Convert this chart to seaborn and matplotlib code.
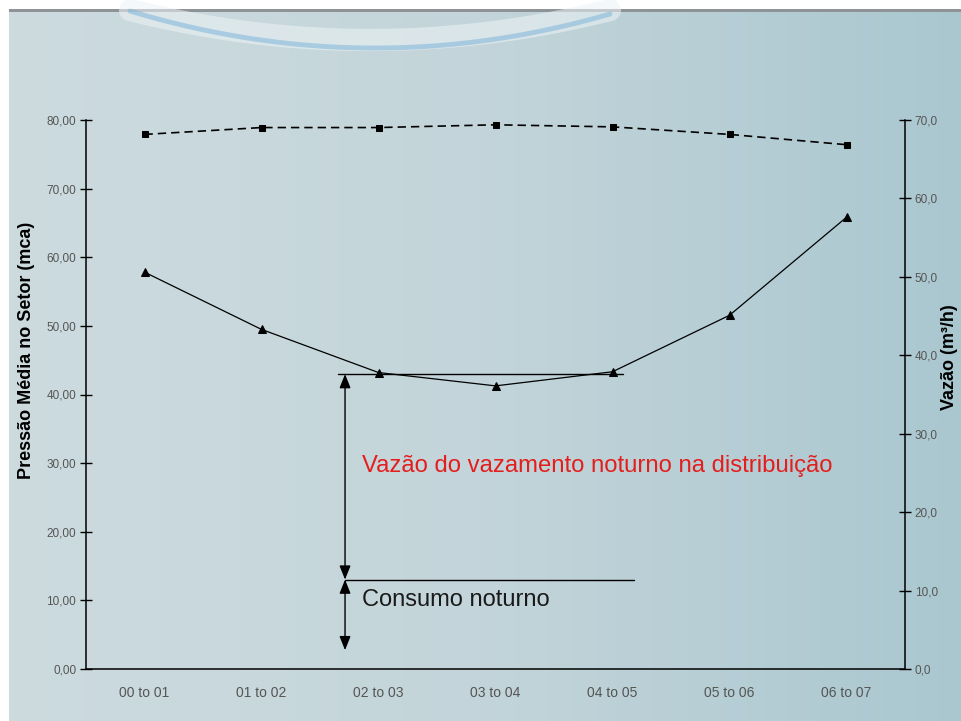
import numpy as np
import pandas as pd
import matplotlib
matplotlib.use("Agg")
import matplotlib.pyplot as plt
from matplotlib.colors import LinearSegmentedColormap
from matplotlib.ticker import FuncFormatter, FixedLocator
import seaborn as sns

# dados
horarios = ["00 to 01", "01 to 02", "02 to 03", "03 to 04", "04 to 05", "05 to 06", "06 to 07"]
pressao = [77.9, 78.9, 78.9, 79.3, 79.0, 77.9, 76.4]      # mca (eixo esquerdo)
vazao = [50.6, 43.3, 37.8, 36.1, 37.9, 45.1, 57.6]        # m3/h (eixo direito)

# niveis das anotacoes (m3/h)
vazao_minima_noturna = 37.6
consumo_noturno = 11.4
fim_seta = 2.4

df = pd.DataFrame({"pos": np.arange(len(horarios)), "horario": horarios,
                   "pressao": pressao, "vazao": vazao})

sns.set_theme(style="white")
plt.rcParams["font.family"] = ["Liberation Sans", "DejaVu Sans"]

fig = plt.figure(figsize=(9.61, 7.21), dpi=100)

# fundo em degrade (decorativo)
bg = fig.add_axes([0, 0, 1, 1], zorder=-10)
grad = np.tile(np.linspace(0, 1, 256), (32, 1))
cmap = LinearSegmentedColormap.from_list("fundo", ["#cddbdf", "#c3d5da", "#aac7cf"])
bg.imshow(grad, cmap=cmap, aspect="auto", extent=[0, 961, 721, 0])
bg.set_xlim(0, 961)
bg.set_ylim(721, 0)
# onda azul no topo
xs = np.linspace(130, 610, 80)
bg.plot(xs, 10 + 30 * (1 - ((xs - 370) / 240) ** 2), color="#eef4f6", lw=16, alpha=0.55,
        solid_capstyle="round")
bg.plot(xs, 14 + 34 * (1 - ((xs - 375) / 235) ** 2), color="#7fb5da", lw=3.5, alpha=0.55,
        solid_capstyle="round")
bg.fill_between([0, 961], 0, 9, color="white", lw=0)
bg.fill_between([0, 9], 0, 721, color="white", lw=0)
bg.fill_between([9, 961], 9, 11.5, color="#8e9398", lw=0)
bg.axis("off")

ax = fig.add_axes([86 / 961, 52 / 721, 819 / 961, 549 / 721])
ax.patch.set_alpha(0)
ax2 = ax.twinx()

sns.lineplot(data=df, x="pos", y="pressao", ax=ax, color="black", lw=1.2,
             linestyle=(0, (5, 3)), marker="s", markersize=5,
             markeredgecolor="black", sort=False)
sns.lineplot(data=df, x="pos", y="vazao", ax=ax2, color="black", lw=0.9,
             marker="^", markersize=5.5, markeredgecolor="black", sort=False)

ax.set_xlim(-0.5, len(horarios) - 0.5)
ax.set_ylim(0, 80)
ax2.set_ylim(0, 70)

# ticks do eixo x nas divisas, rotulos no centro
ax.xaxis.set_major_locator(FixedLocator(np.arange(-0.5, len(horarios), 1.0)))
ax.xaxis.set_minor_locator(FixedLocator(df["pos"]))
ax.set_xticklabels([], minor=False)
ax.set_xticklabels(horarios, minor=True)
ax.tick_params(axis="x", which="major", direction="inout", length=8, width=1, color="black")
ax.tick_params(axis="x", which="minor", length=0, pad=12, labelsize=10, labelcolor="#555555")

ax.set_yticks(np.arange(0, 81, 10))
ax.yaxis.set_major_formatter(FuncFormatter(lambda v, p: f"{v:.2f}".replace(".", ",")))
ax.tick_params(axis="y", direction="inout", length=8, width=1, color="black",
               labelsize=8.5, labelcolor="#555555", pad=3)
ax2.set_yticks(np.arange(0, 71, 10))
ax2.yaxis.set_major_formatter(FuncFormatter(lambda v, p: f"{v:.1f}".replace(".", ",")))
ax2.tick_params(axis="y", direction="inout", length=8, width=1, color="black",
                labelsize=8.5, labelcolor="#555555", pad=3)

for a in (ax, ax2):
    a.set_xlabel("")
    a.set_ylabel("")
    a.grid(False)
    a.spines["top"].set_visible(False)
    for s in a.spines.values():
        s.set_color("black")
        s.set_linewidth(1.1)
ax.spines["right"].set_visible(False)
ax2.spines["left"].set_visible(False)
ax2.spines["bottom"].set_visible(False)

fig.text(27 / 961, 1 - 350 / 721, "Pressão Média no Setor (mca)", rotation=90,
         ha="center", va="center", fontsize=13, fontweight="bold", color="black")
fig.text(950 / 961, 1 - 357 / 721, "Vazão (m³/h)", rotation=90,
         ha="center", va="center", fontsize=13, fontweight="bold", color="black")

# anotacoes
ax2.plot([1.654, 4.09], [vazao_minima_noturna] * 2, color="black", lw=1)
ax2.plot([1.714, 4.184], [consumo_noturno] * 2, color="black", lw=1)
seta = dict(arrowstyle="<|-|>,head_length=0.7,head_width=0.28", color="black",
            lw=1, shrinkA=0, shrinkB=0, mutation_scale=12)
ax2.annotate("", xy=(1.714, vazao_minima_noturna), xytext=(1.714, consumo_noturno), arrowprops=seta)
ax2.annotate("", xy=(1.714, consumo_noturno), xytext=(1.714, fim_seta), arrowprops=seta)
ax2.text(1.86, 25.9, "Vazão do vazamento noturno na distribuição", color="#e41e1c",
         fontsize=17.2, ha="left", va="center")
ax2.text(1.86, 8.8, "Consumo noturno", color="#1a1a1a", fontsize=17, ha="left", va="center")

fig.savefig("out.png", dpi=100)
